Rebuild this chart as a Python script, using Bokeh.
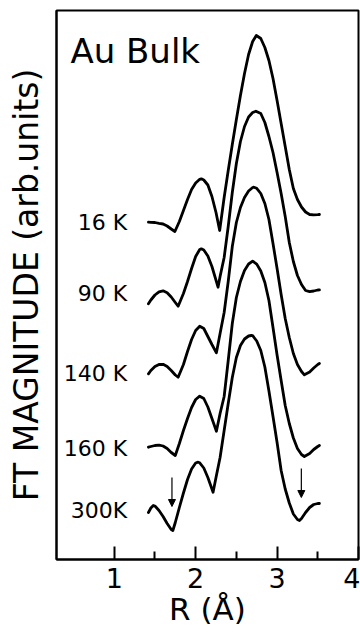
from bokeh.plotting import figure
from bokeh.models import Range1d, FixedTicker, Label, Arrow, NormalHead, ColumnDataSource
from bokeh.core.properties import value
from bokeh.embed import file_html
from bokeh.resources import INLINE

FONT = "DejaVu Sans"

# Fourier-transform magnitude of Au bulk EXAFS, curves stacked vertically (arb. units)
r_16K = [1.42, 1.45, 1.50, 1.55, 1.60, 1.65, 1.70, 1.745, 1.80, 1.85, 1.90, 1.95, 2.00, 2.05, 2.07,
         2.10, 2.15, 2.20, 2.25, 2.295, 2.35, 2.40, 2.45, 2.50, 2.55, 2.60, 2.65, 2.70, 2.745, 2.80,
         2.85, 2.90, 2.95, 3.00, 3.05, 3.10, 3.15, 3.20, 3.25, 3.30, 3.35, 3.40, 3.45, 3.50, 3.52]
ft_16K = [3.373, 3.372, 3.37, 3.362, 3.355, 3.335, 3.305, 3.28, 3.38, 3.49, 3.60, 3.70, 3.765, 3.802, 3.807,
          3.795, 3.745, 3.63, 3.47, 3.29, 3.62, 3.89, 4.15, 4.40, 4.64, 4.86, 5.05, 5.18, 5.24, 5.21,
          5.12, 4.99, 4.81, 4.59, 4.36, 4.13, 3.90, 3.71, 3.60, 3.525, 3.475, 3.45, 3.446, 3.448, 3.45]

r_90K = [1.42, 1.45, 1.50, 1.55, 1.60, 1.65, 1.70, 1.75, 1.785, 1.85, 1.90, 1.95, 2.00, 2.05, 2.07,
         2.10, 2.15, 2.20, 2.275, 2.30, 2.35, 2.40, 2.45, 2.50, 2.55, 2.60, 2.65, 2.70, 2.74, 2.80,
         2.85, 2.90, 2.95, 3.00, 3.05, 3.10, 3.15, 3.20, 3.25, 3.30, 3.35, 3.40, 3.45, 3.50, 3.52]
ft_90K = [2.557, 2.595, 2.645, 2.677, 2.687, 2.668, 2.625, 2.57, 2.533, 2.66, 2.78, 2.91, 3.03, 3.10, 3.107,
          3.095, 3.035, 2.93, 2.723, 2.83, 3.02, 3.33, 3.67, 3.96, 4.18, 4.33, 4.425, 4.47, 4.483, 4.46,
          4.37, 4.23, 4.07, 3.87, 3.66, 3.43, 3.17, 2.98, 2.84, 2.75, 2.69, 2.678, 2.685, 2.695, 2.697]

r_140K = [1.42, 1.45, 1.50, 1.55, 1.60, 1.65, 1.70, 1.75, 1.785, 1.85, 1.90, 1.95, 2.00, 2.05,
          2.10, 2.15, 2.20, 2.255, 2.30, 2.35, 2.40, 2.45, 2.50, 2.55, 2.60, 2.65, 2.70, 2.715, 2.75,
          2.80, 2.85, 2.90, 2.95, 3.00, 3.05, 3.10, 3.15, 3.20, 3.25, 3.30, 3.335, 3.40, 3.45, 3.50, 3.52]
ft_140K = [1.857, 1.89, 1.93, 1.95, 1.952, 1.93, 1.89, 1.845, 1.823, 1.95, 2.08, 2.20, 2.29, 2.333,
           2.31, 2.23, 2.15, 2.067, 2.26, 2.47, 2.78, 3.13, 3.37, 3.52, 3.62, 3.685, 3.72, 3.723, 3.712,
           3.66, 3.56, 3.40, 3.16, 2.91, 2.65, 2.41, 2.22, 2.06, 1.95, 1.88, 1.847, 1.875, 1.915, 1.95, 1.96]

r_160K = [1.42, 1.45, 1.50, 1.55, 1.60, 1.65, 1.70, 1.75, 1.80, 1.85, 1.90, 1.95, 2.00, 2.05,
          2.10, 2.15, 2.20, 2.255, 2.30, 2.35, 2.40, 2.45, 2.50, 2.55, 2.60, 2.65, 2.70,
          2.75, 2.80, 2.85, 2.90, 2.95, 3.00, 3.05, 3.10, 3.15, 3.20, 3.25, 3.30, 3.335, 3.40, 3.45, 3.50, 3.52]
ft_160K = [1.123, 1.13, 1.14, 1.143, 1.135, 1.11, 1.07, 1.04, 1.16, 1.29, 1.41, 1.52, 1.60, 1.633,
           1.61, 1.525, 1.41, 1.283, 1.46, 1.63, 1.99, 2.36, 2.62, 2.78, 2.89, 2.955, 2.983,
           2.954, 2.885, 2.77, 2.59, 2.32, 2.045, 1.79, 1.54, 1.36, 1.215, 1.11, 1.05, 1.03, 1.06, 1.10, 1.13, 1.14]

r_300K = [1.42, 1.45, 1.48, 1.50, 1.55, 1.60, 1.65, 1.70, 1.72, 1.75, 1.80, 1.85, 1.90, 1.95, 2.00, 2.03, 2.05,
          2.10, 2.15, 2.214, 2.25, 2.30, 2.35, 2.40, 2.45, 2.50, 2.55, 2.60, 2.65, 2.683, 2.70,
          2.75, 2.80, 2.85, 2.90, 2.95, 3.00, 3.05, 3.10, 3.15, 3.20, 3.25, 3.275, 3.30, 3.35, 3.40, 3.45, 3.50, 3.52]
ft_300K = [0.47, 0.515, 0.54, 0.535, 0.49, 0.43, 0.36, 0.30, 0.29, 0.37, 0.52, 0.665, 0.80, 0.905, 0.965, 0.973, 0.967,
           0.915, 0.82, 0.673, 0.82, 1.02, 1.29, 1.56, 1.82, 2.02, 2.14, 2.205, 2.235, 2.24, 2.238,
           2.185, 2.09, 1.925, 1.685, 1.43, 1.17, 0.89, 0.705, 0.565, 0.455, 0.40, 0.39, 0.41, 0.47, 0.52, 0.55, 0.56, 0.56]

temperatures = ["16 K", "90 K", "140 K", "160 K", "300K"]
label_r = [1.16, 1.16, 1.16, 1.16, 1.16]
label_level = [3.37, 2.66, 1.86, 1.11, 0.49]

x_ticks = [1, 2, 3, 4]
x_minor_ticks = [1.5, 2.5, 3.5]

# marked minima on the 300 K curve: (R, arrow top, arrow tip)
arrow_r = [1.709, 3.298]
arrow_top = [0.82, 0.91]
arrow_tip = [0.53, 0.62]

X_MIN, X_MAX = 0.291, 4.0

p = figure(width=360, height=635, x_range=Range1d(X_MIN, X_MAX), y_range=Range1d(0, 5.49),
           output_backend="svg", toolbar_location=None,
           min_border_left=56, min_border_right=2, min_border_top=10, min_border_bottom=76)
p.background_fill_color = "white"
p.border_fill_color = "white"
p.xgrid.visible = False
p.ygrid.visible = False
p.outline_line_color = "black"
p.outline_line_width = 2
p.outline_line_alpha = 1

# bottom axis: inward ticks, large tick numbers
xa = p.xaxis[0]
xa.ticker = FixedTicker(ticks=x_ticks, minor_ticks=x_minor_ticks)
xa.axis_line_width = 2
xa.major_tick_in = 13
xa.major_tick_out = 0
xa.minor_tick_in = 8
xa.minor_tick_out = 0
xa.major_tick_line_width = 2
xa.minor_tick_line_width = 2
xa.major_label_text_font = FONT
xa.major_label_text_font_size = "27px"
xa.major_label_text_color = "black"
xa.major_label_standoff = 8
xa.axis_label = "R (Å)"
xa.axis_label_text_font = FONT
xa.axis_label_text_font_size = "31px"
xa.axis_label_text_font_style = "normal"
xa.axis_label_text_color = "black"
xa.axis_label_standoff = 0

ya = p.yaxis[0]
ya.ticker = FixedTicker(ticks=[])
ya.axis_line_width = 2
ya.major_tick_in = 0
ya.major_tick_out = 0
ya.minor_tick_in = 0
ya.minor_tick_out = 0
ya.axis_label = "FT MAGNITUDE (arb.units)"
ya.axis_label_text_font = FONT
ya.axis_label_text_font_size = "33px"
ya.axis_label_text_font_style = "normal"
ya.axis_label_text_color = "black"
ya.axis_label_standoff = 11

curves = [(r_16K, ft_16K), (r_90K, ft_90K), (r_140K, ft_140K), (r_160K, ft_160K), (r_300K, ft_300K)]
for r, ft in curves:
    p.line(r, ft, line_color="black", line_width=2.8, line_join="round", line_cap="round")

labels = ColumnDataSource(dict(x=label_r, y=label_level, text=temperatures))
p.text(x="x", y="y", text="text", source=labels, text_font=value(FONT), text_font_size="22px",
       text_align="right", text_baseline="middle", text_color="black")

p.add_layout(Label(x=0.462, y=5.09, text="Au Bulk", text_font=FONT, text_font_size="34px",
                   text_baseline="alphabetic", text_color="black"))

for xr, y0, y1 in zip(arrow_r, arrow_top, arrow_tip):
    p.add_layout(Arrow(end=NormalHead(size=7, fill_color="black", line_color="black", line_width=1),
                       x_start=xr, y_start=y0, x_end=xr, y_end=y1,
                       line_color="black", line_width=1.2))

open("out.html", "w").write(file_html(p, INLINE))
